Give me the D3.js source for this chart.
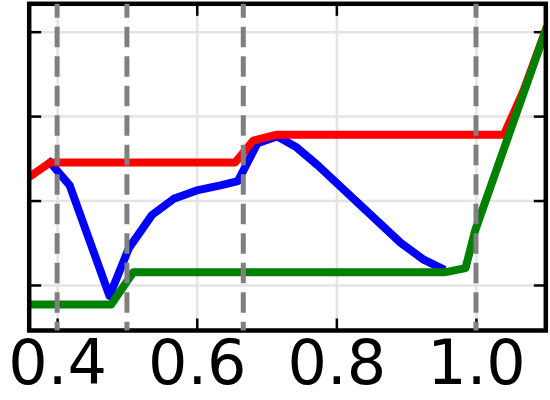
<!DOCTYPE html>
<html>
<head>
<meta charset="utf-8">
<script src="https://d3js.org/d3.v7.min.js"></script>
<style>
    body { margin: 0; background: white; }
    svg { display: block; }
    .tick text { font-family: "DejaVu Sans", sans-serif; }
</style>
</head>
<body>
<svg id="chart" width="550" height="400"></svg>
<script>
// series
var redX = [0.36, 0.39, 0.655, 0.681, 0.715, 1.040, 1.068, 1.10]
var redY = [2.28, 2.45, 2.45, 2.71, 2.78, 2.78, 3.30, 4.02]

var blueX = [0.39, 0.418, 0.475, 0.503, 0.536, 0.567, 0.600, 0.634, 0.659, 0.687, 0.715, 0.743, 0.773, 0.892, 0.925, 0.950]
var blueY = [2.45, 2.18, 0.87, 1.44, 1.83, 2.02, 2.12, 2.18, 2.23, 2.68, 2.76, 2.63, 2.42, 1.50, 1.30, 1.20]

var greenX = [0.36, 0.4775, 0.509, 0.955, 0.985, 0.999, 1.10]
var greenY = [0.77, 0.77, 1.15, 1.15, 1.20, 1.65, 4.02]

var vlines = [0.4, 0.5, 2 / 3, 1.0]
var xTicks = [0.4, 0.6, 0.8, 1.0]
var yTicks = [1, 2, 3, 4]

var svg = d3.select("#chart")
// frame edges in px (note: "top" is a reserved window global, so keep these in an object)
var box = { left: 29.2, right: 545.8, top: 3.8, bottom: 330.5 }

var x = d3.scaleLinear().domain([0.36, 1.10]).range([box.left, box.right])
var y = d3.scaleLinear().domain([0.461, 4.330]).range([box.bottom, box.top])

svg.append("defs").append("clipPath").attr("id", "plot")
    .append("rect")
    .attr("x", box.left).attr("y", box.top)
    .attr("width", box.right - box.left).attr("height", box.bottom - box.top)

// grid
var grid = svg.append("g").attr("class", "grid")
grid.append("g")
    .attr("transform", `translate(0,${box.bottom})`)
    .call(d3.axisBottom(x).tickValues(xTicks).tickSize(-(box.bottom - box.top)).tickFormat(""))
grid.append("g")
    .attr("transform", `translate(${box.left},0)`)
    .call(d3.axisLeft(y).tickValues(yTicks).tickSize(-(box.right - box.left)).tickFormat(""))
grid.selectAll(".domain").remove()
grid.selectAll("line").attr("stroke", "#e4e4e4").attr("stroke-width", 2.5)

// inward ticks on all four sides
var tickLen = 12
var axes = svg.append("g").attr("class", "axes")
var xAxis = axes.append("g")
    .attr("transform", `translate(0,${box.bottom})`)
    .call(d3.axisBottom(x).tickValues(xTicks).tickSize(-tickLen).tickPadding(9).tickFormat(d3.format(".1f")))
axes.append("g")
    .attr("transform", `translate(0,${box.top})`)
    .call(d3.axisTop(x).tickValues(xTicks).tickSize(-tickLen).tickFormat(""))
axes.append("g")
    .attr("transform", `translate(${box.left},0)`)
    .call(d3.axisLeft(y).tickValues(yTicks).tickSize(-tickLen).tickFormat(""))
axes.append("g")
    .attr("transform", `translate(${box.right},0)`)
    .call(d3.axisRight(y).tickValues(yTicks).tickSize(-tickLen).tickFormat(""))
axes.selectAll(".domain").remove()
axes.selectAll("line").attr("stroke", "black").attr("stroke-width", 2.5)
xAxis.selectAll("text")
    .attr("font-size", 62)
    .attr("fill", "black")

// lines
var line = d3.line().x(d => x(d[0])).y(d => y(d[1]))
var series = [
    { xs: blueX, ys: blueY, color: "#0000ff" },
    { xs: redX, ys: redY, color: "#ff0000" },
    { xs: greenX, ys: greenY, color: "#008000" }
]
svg.append("g").attr("clip-path", "url(#plot)")
    .selectAll("path")
    .data(series)
    .enter().append("path")
    .attr("d", s => line(s.xs.map((v, i) => [v, s.ys[i]])))
    .attr("fill", "none")
    .attr("stroke", s => s.color)
    .attr("stroke-width", 8)
    .attr("stroke-linejoin", "round")
    .attr("stroke-linecap", "square")

// frame
svg.append("rect")
    .attr("x", box.left).attr("y", box.top)
    .attr("width", box.right - box.left).attr("height", box.bottom - box.top)
    .attr("fill", "none")
    .attr("stroke", "black")
    .attr("stroke-width", 4.5)

// dashed markers
svg.append("g").selectAll("line")
    .data(vlines)
    .enter().append("line")
    .attr("x1", d => x(d)).attr("x2", d => x(d))
    .attr("y1", box.top).attr("y2", box.bottom)
    .attr("stroke", "#808080")
    .attr("stroke-width", 5)
    .attr("stroke-dasharray", "20.5,9")
    .attr("stroke-dashoffset", 6.6)
</script>
</body>
</html>
